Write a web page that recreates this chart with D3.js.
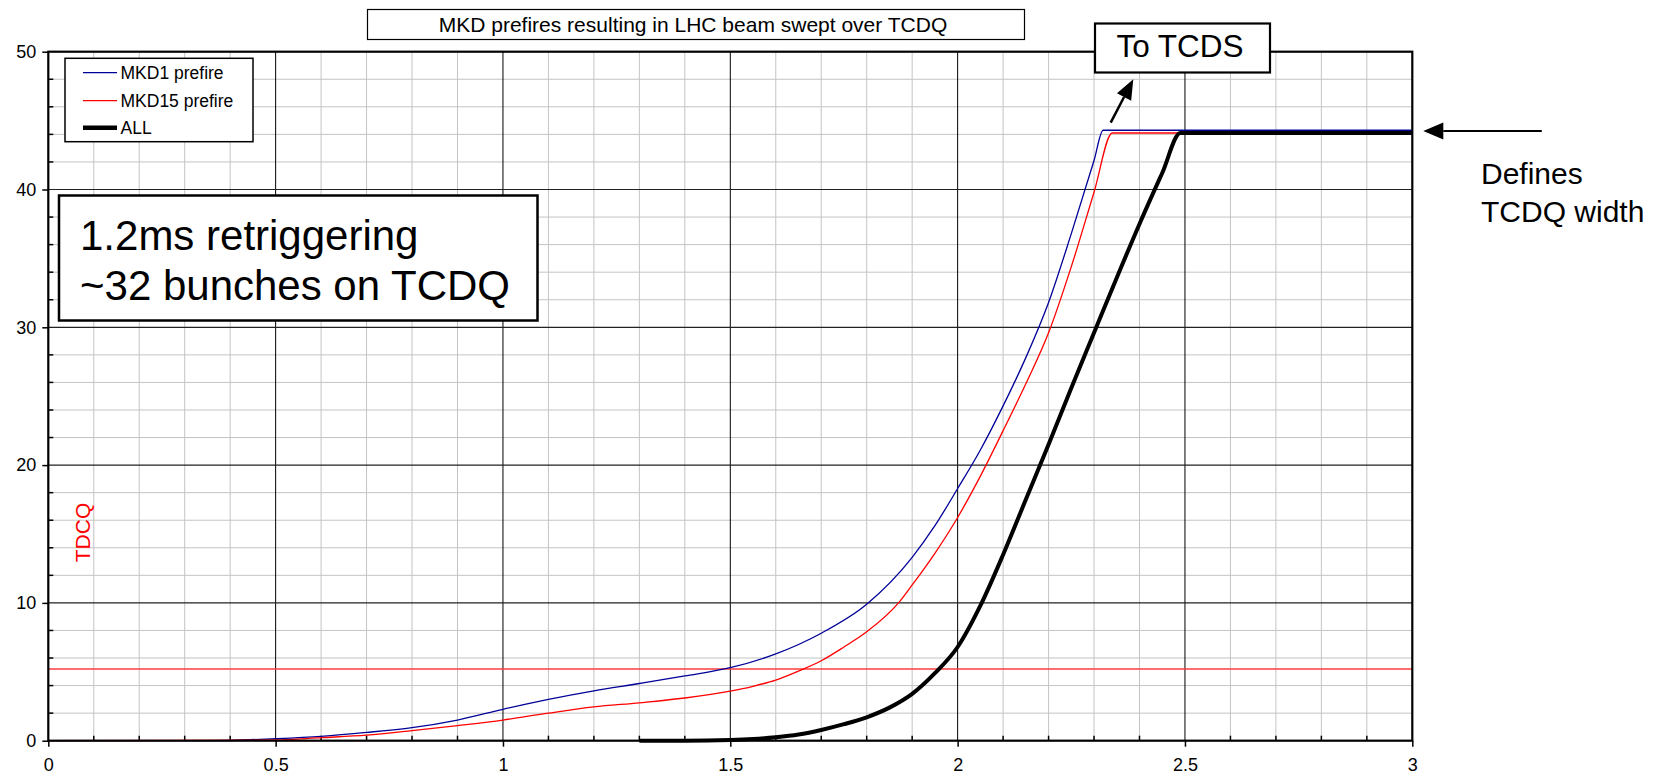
<!DOCTYPE html>
<html><head><meta charset="utf-8">
<script src="https://cdn.jsdelivr.net/npm/d3@7"></script>
<style>html,body{margin:0;padding:0;background:#fff;} svg{display:block;font-family:Arial,"Liberation Sans",sans-serif;}</style>
</head><body>
<svg id="c" width="1672" height="776"></svg>
<script>
// ---- data ----
const mkd1X = [0, 0.36, 0.5, 0.6, 0.7, 0.8, 0.9, 1.0, 1.1, 1.2, 1.3, 1.4, 1.5, 1.6, 1.7, 1.8, 1.9, 1.95, 2.0, 2.05, 2.1, 2.15, 2.2, 2.25, 2.3, 2.32, 3.0];
const mkd1Y = [0, 0, 0.15, 0.32, 0.6, 0.95, 1.5, 2.28, 3.0, 3.62, 4.15, 4.7, 5.3, 6.3, 7.8, 9.9, 13.3, 15.6, 18.3, 21.1, 24.3, 27.8, 31.8, 36.8, 42.1, 44.3, 44.3];
const mkd15X = [0, 0.5, 0.6, 0.7, 0.8, 0.9, 1.0, 1.1, 1.2, 1.3, 1.4, 1.5, 1.55, 1.6, 1.65, 1.7, 1.75, 1.8, 1.87, 1.9, 1.95, 2.0, 2.05, 2.1, 2.15, 2.2, 2.25, 2.3, 2.34, 3.0];
const mkd15Y = [0, 0.05, 0.22, 0.4, 0.73, 1.1, 1.5, 2.0, 2.45, 2.75, 3.1, 3.6, 3.95, 4.4, 5.05, 5.8, 6.8, 7.9, 10.0, 11.3, 13.6, 16.2, 19.2, 22.5, 25.9, 29.6, 34.4, 39.8, 44.1, 44.1];
const allX = [1.3, 1.4, 1.5, 1.55, 1.6, 1.65, 1.7, 1.75, 1.8, 1.85, 1.9, 1.95, 2.0, 2.05, 2.1, 2.15, 2.2, 2.25, 2.3, 2.35, 2.4, 2.45, 2.49, 3.0];
const allY = [0, 0, 0.05, 0.12, 0.25, 0.45, 0.78, 1.2, 1.7, 2.4, 3.4, 4.9, 6.8, 9.8, 13.5, 17.5, 21.5, 25.6, 29.6, 33.6, 37.5, 41.2, 44.1, 44.1];
const tcdqLevel = 5.2;
const xTicks = [0, 0.5, 1, 1.5, 2, 2.5, 3];
const xTickLabels = ["0", "0.5", "1", "1.5", "2", "2.5", "3"];
const yTicks = [0, 10, 20, 30, 40, 50];
const yTickLabels = ["0", "10", "20", "30", "40", "50"];
const seriesNames = ["MKD1 prefire", "MKD15 prefire", "ALL"];
const titleText = "MKD prefires resulting in LHC beam swept over TCDQ";
const noteLines = ["1.2ms retriggering", "~32 bunches on TCDQ"];

// ---- layout ----
const L = 48.3, R = 1412.3, T = 51.7, B = 740.7;
const svg = d3.select("#c");
const x = d3.scaleLinear().domain([0, 3]).range([L, R]);
const y = d3.scaleLinear().domain([0, 50]).range([B, T]);

// minor grid
const xMinor = d3.range(1, 30).map(i => i / 10).filter(v => Math.abs(v * 2 - Math.round(v * 2)) > 1e-6);
const yMinor = d3.range(1, 25).map(i => i * 2).filter(v => v % 10 !== 0);
const g = svg.append("g");
g.selectAll(".xm").data(xMinor).join("line")
  .attr("x1", d => x(d)).attr("x2", d => x(d)).attr("y1", T).attr("y2", B)
  .attr("stroke", "#c4c4c4").attr("stroke-width", 1);
g.selectAll(".ym").data(yMinor).join("line")
  .attr("x1", L).attr("x2", R).attr("y1", d => y(d)).attr("y2", d => y(d))
  .attr("stroke", "#c4c4c4").attr("stroke-width", 1);
// major grid
g.selectAll(".xM").data(xTicks.slice(1, -1)).join("line")
  .attr("x1", d => x(d)).attr("x2", d => x(d)).attr("y1", T).attr("y2", B)
  .attr("stroke", "#000").attr("stroke-width", 1);
g.selectAll(".yM").data(yTicks.slice(1, -1)).join("line")
  .attr("x1", L).attr("x2", R).attr("y1", d => y(d)).attr("y2", d => y(d))
  .attr("stroke", "#222").attr("stroke-width", 1.2);

// minor ticks inward
g.selectAll(".xmt").data(xMinor).join("line")
  .attr("x1", d => x(d)).attr("x2", d => x(d)).attr("y1", B).attr("y2", B - 5)
  .attr("stroke", "#000").attr("stroke-width", 1.5);
g.selectAll(".ymt").data(yMinor).join("line")
  .attr("x1", L).attr("x2", L + 5).attr("y1", d => y(d)).attr("y2", d => y(d))
  .attr("stroke", "#000").attr("stroke-width", 1.5);

// axes
const xAxis = d3.axisBottom(x).tickValues(xTicks).tickFormat((d, i) => xTickLabels[i]).tickSize(6).tickPadding(12);
const yAxis = d3.axisLeft(y).tickValues(yTicks).tickFormat((d, i) => yTickLabels[i]).tickSize(6).tickPadding(6);
const gx = svg.append("g").attr("transform", `translate(0,${B})`).call(xAxis);
const gy = svg.append("g").attr("transform", `translate(${L},0)`).call(yAxis);
[gx, gy].forEach(a => {
  a.select(".domain").remove();
  a.selectAll(".tick line").attr("stroke", "#000").attr("stroke-width", 1.5);
  a.selectAll(".tick text").attr("font-size", 18).attr("fill", "#000").attr("font-family", "Arial, 'Liberation Sans', sans-serif");
});

// TCDQ level line
svg.append("line").attr("x1", x(0)).attr("x2", x(3)).attr("y1", y(tcdqLevel)).attr("y2", y(tcdqLevel))
  .attr("stroke", "#ff3c3c").attr("stroke-width", 1.6);

// curves
const line = d3.line().x(d => x(d[0])).y(d => y(d[1])).curve(d3.curveMonotoneX);
const cg = svg.append("g");
cg.append("path").datum(mkd1X.map((v, i) => [v, mkd1Y[i]])).attr("d", line)
  .attr("fill", "none").attr("stroke", "#000099").attr("stroke-width", 1.3);
cg.append("path").datum(mkd15X.map((v, i) => [v, mkd15Y[i]])).attr("d", line)
  .attr("fill", "none").attr("stroke", "#ff0000").attr("stroke-width", 1.3);
cg.append("path").datum(allX.map((v, i) => [v, allY[i]])).attr("d", line)
  .attr("fill", "none").attr("stroke", "#000").attr("stroke-width", 4);

// plot frame
svg.append("rect").attr("x", L).attr("y", T).attr("width", R - L).attr("height", B - T)
  .attr("fill", "none").attr("stroke", "#000").attr("stroke-width", 2.2);

// TDCQ label
svg.append("text").attr("transform", `translate(90,532.5) rotate(-90)`)
  .attr("text-anchor", "middle").attr("font-size", 21).attr("fill", "#ff0000").text("TDCQ");

// title
svg.append("rect").attr("x", 367.5).attr("y", 9.5).attr("width", 657).attr("height", 30)
  .attr("fill", "#fff").attr("stroke", "#000").attr("stroke-width", 1.2);
svg.append("text").attr("x", 693).attr("y", 31.5).attr("text-anchor", "middle")
  .attr("font-size", 21).text(titleText);

// legend
const leg = svg.append("g");
leg.append("rect").attr("x", 65).attr("y", 58.3).attr("width", 188).attr("height", 83.4)
  .attr("fill", "#fff").attr("stroke", "#000").attr("stroke-width", 1.5);
const legColors = ["#000099", "#ff0000", "#000"];
const legWidths = [1.3, 1.3, 4.5];
const legY = [72.7, 100.7, 127.7];
seriesNames.forEach((n, i) => {
  leg.append("line").attr("x1", 83).attr("x2", 117).attr("y1", legY[i]).attr("y2", legY[i])
    .attr("stroke", legColors[i]).attr("stroke-width", legWidths[i]);
  leg.append("text").attr("x", 120.5).attr("y", legY[i]).attr("dy", "0.36em")
    .attr("font-size", 17.5).text(n);
});

// note box
svg.append("rect").attr("x", 59).attr("y", 195.5).attr("width", 478.5).attr("height", 125)
  .attr("fill", "#fff").attr("stroke", "#000").attr("stroke-width", 2.5);
noteLines.forEach((t, i) => {
  svg.append("text").attr("x", 80).attr("y", 250 + i * 50).attr("font-size", 42).text(t);
});

// To TCDS box
svg.append("rect").attr("x", 1095).attr("y", 23.5).attr("width", 175).attr("height", 49)
  .attr("fill", "#fff").attr("stroke", "#000").attr("stroke-width", 2.2);
svg.append("text").attr("x", 1180).attr("y", 57).attr("text-anchor", "middle")
  .attr("font-size", 31.5).text("To TCDS");

// arrows
function arrow(x1, y1, x2, y2, len, hw, sw) {
  const a = Math.atan2(y2 - y1, x2 - x1);
  const bx = x2 - len * Math.cos(a), by = y2 - len * Math.sin(a);
  svg.append("line").attr("x1", x1).attr("y1", y1).attr("x2", bx).attr("y2", by)
    .attr("stroke", "#000").attr("stroke-width", sw);
  const px = -Math.sin(a) * hw, py = Math.cos(a) * hw;
  svg.append("path").attr("d", `M${x2},${y2}L${bx + px},${by + py}L${bx - px},${by - py}Z`).attr("fill", "#000");
}
arrow(1110.7, 122.7, 1133.3, 79.3, 20, 8, 2.5);
arrow(1541.8, 131, 1423.3, 131, 20, 8.5, 2.2);

// Defines text
svg.append("text").attr("x", 1481).attr("y", 184).attr("font-size", 30).text("Defines");
svg.append("text").attr("x", 1481).attr("y", 222).attr("font-size", 30).text("TCDQ width");
</script>
</body></html>
